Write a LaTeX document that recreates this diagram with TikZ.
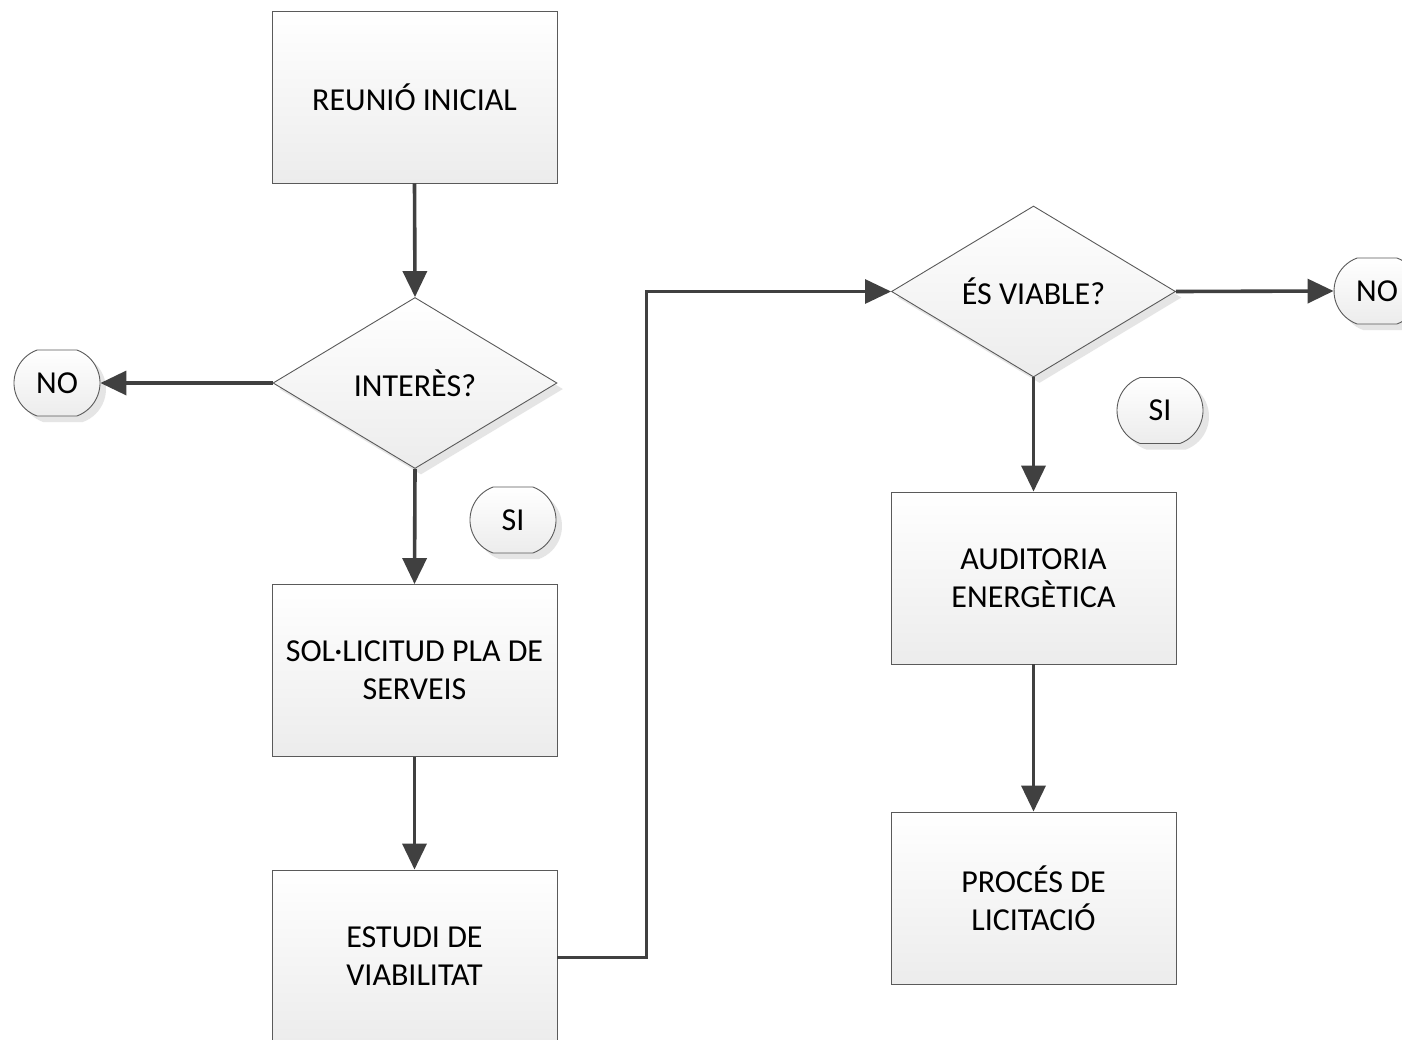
\documentclass[tikz,border=0pt]{standalone}
\usepackage{fontspec}
\setmainfont{Carlito}
\usetikzlibrary{shapes.geometric,shapes.misc,shadows,arrows.meta}
\definecolor{edge}{HTML}{5A5A5A}
\definecolor{arr}{HTML}{404040}
\definecolor{shade}{HTML}{ECECEC}
\begin{document}
\begin{tikzpicture}[x=1pt,y=-1pt,
  every node/.style={font=\fontsize{32}{38}\selectfont, text=black},
  procbox/.style={rectangle, draw=edge, line width=0.9pt, minimum width=285pt, minimum height=172pt,
     top color=white, bottom color=shade, align=center, inner sep=0pt},
  decis/.style={diamond, draw=edge, line width=0.9pt, aspect=1.66, minimum width=284pt, minimum height=171pt,
     inner sep=0pt, top color=white, bottom color=shade,
     drop shadow={shadow xshift=6pt, shadow yshift=-6pt, fill=black!20, opacity=0.5}},
  term/.style={rounded rectangle, rounded rectangle arc length=140, draw=edge, line width=0.9pt,
     minimum width=86pt, minimum height=66pt, inner sep=0pt, top color=white, bottom color=shade,
     drop shadow={shadow xshift=6pt, shadow yshift=-6pt, fill=black!20, opacity=0.5}},
  flow/.style={draw=arr, line width=3.6pt, -{Triangle[length=26pt,width=24pt]}}
]
\useasboundingbox (0,0) rectangle (1402,1039);
\fill[white] (0,0) rectangle (1402,1039);

\node[procbox] (reunio) at (414.5,97) {REUNIÓ INICIAL};
\node[decis] (interes) at (415,383) {INTERÈS?};
\node[term] (no1) at (57,383) {NO};
\node[term] (si1) at (513,520) {SI};
\node[procbox] (sol) at (414.5,670.5) {SOL·LICITUD PLA DE\\SERVEIS};
\node[procbox] (estudi) at (414.5,956) {ESTUDI DE\\VIABILITAT};

\node[decis] (viable) at (1033.5,291.5) {ÉS VIABLE?};
\node[term] (no2) at (1377,291) {NO};
\node[term] (si2) at (1160,410.5) {SI};
\node[procbox] (audit) at (1033.5,578) {AUDITORIA\\ENERGÈTICA};
\node[procbox] (proces) at (1033.5,898) {PROCÉS DE\\LICITACIÓ};

\coordinate (bendA) at (646,957);
\coordinate (bendB) at (646,291.5);

\draw[flow] (reunio.south) -- (interes.north);
\draw[flow] (interes.west) -- (no1.east);
\draw[flow] (interes.south) -- (sol.north);
\draw[flow] (sol.south) -- (estudi.north);
\draw[flow, line width=3pt] (estudi.east |- bendA) -- (bendA) -- (bendB) -- (viable.west);
\draw[flow] (viable.east) -- (no2.west);
\draw[flow] (viable.south) -- (audit.north);
\draw[flow] (audit.south) -- (proces.north);
\end{tikzpicture}
\end{document}
